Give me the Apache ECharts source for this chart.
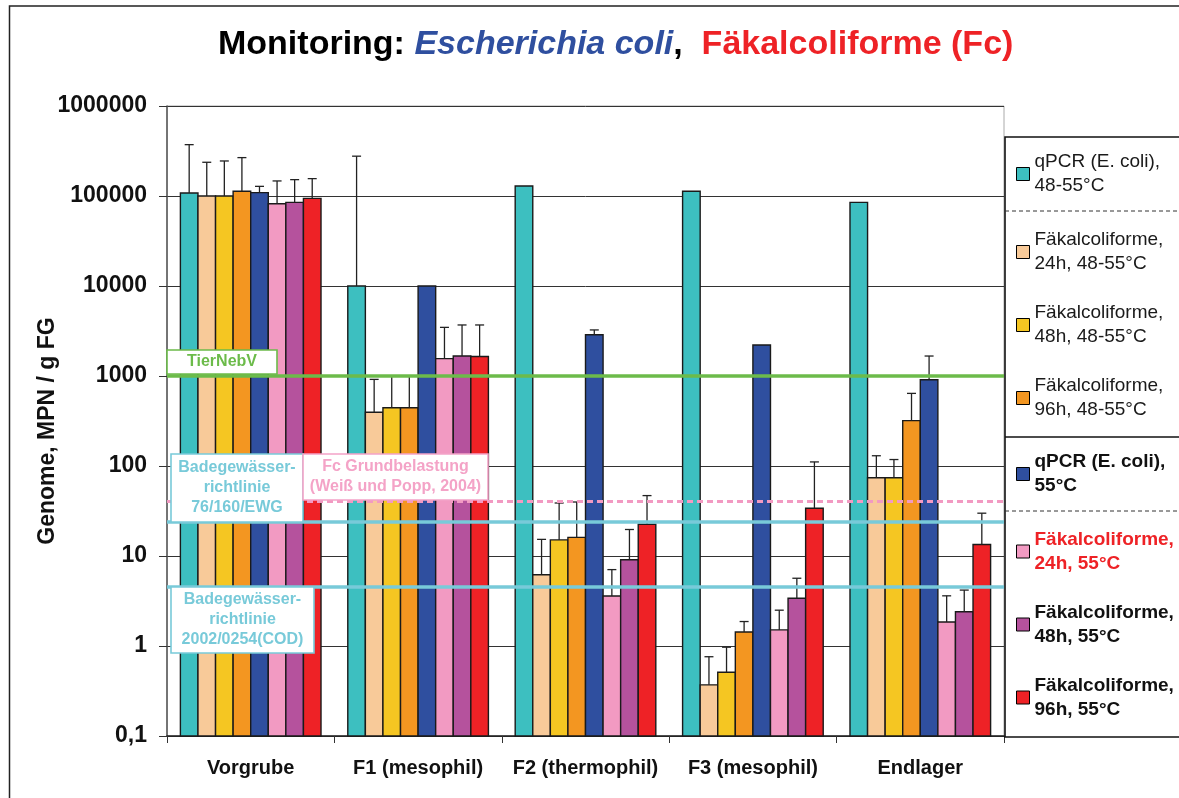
<!DOCTYPE html>
<html><head><meta charset="utf-8">
<script src="https://cdn.jsdelivr.net/npm/echarts@6/dist/echarts.min.js"></script>
<style>html,body{margin:0;padding:0;background:#fff}#c{width:1179px;height:798px}</style>
</head><body><div id="c"></div>
<script>
// ---------- data ----------
const categories = ['Vorgrube', 'F1 (mesophil)', 'F2 (thermophil)', 'F3 (mesophil)', 'Endlager'];
const seriesNames = [
  'qPCR (E. coli),\n48-55°C',
  'Fäkalcoliforme,\n24h, 48-55°C',
  'Fäkalcoliforme,\n48h, 48-55°C',
  'Fäkalcoliforme,\n96h, 48-55°C',
  'qPCR (E. coli),\n55°C',
  'Fäkalcoliforme,\n24h, 55°C',
  'Fäkalcoliforme,\n48h, 55°C',
  'Fäkalcoliforme,\n96h, 55°C'
];
const qpcr4855      = [108000, 10000, 129000, 113000, 85000];
const qpcr4855Err   = [372000, 277000, null, null, null];
const fc24h4855     = [100000, 396, 6.2, 0.37, 74];
const fc24h4855Err  = [237000, 917, 15.3, 0.76, 130];
const fc48h4855     = [100000, 444, 15.1, 0.51, 74];
const fc48h4855Err  = [245000, 1000, 38.8, 0.97, 118];
const fc96h4855     = [113000, 444, 16.1, 1.43, 319];
const fc96h4855Err  = [267000, 1000, 39.8, 1.87, 641];
const qpcr55        = [109000, 10000, 2870, 2210, 907];
const qpcr55Err     = [128000, null, 3250, null, 1667];
const fc24h55       = [82000, 1560, 3.6, 1.51, 1.85];
const fc24h55Err    = [147000, 3470, 7.06, 2.5, 3.61];
const fc48h55       = [85000, 1667, 9.1, 3.39, 2.4];
const fc48h55Err    = [152000, 3690, 19.7, 5.66, 4.18];
const fc96h55       = [94000, 1650, 22.5, 33.9, 13.4];
const fc96h55Err    = [156000, 3690, 46.9, 111, 29.9];
const yTickLabels   = [0.1, 1, 10, 100, 1000, 10000, 100000, 1000000];
// reference limits
const tierNebV      = 1000;
const fcGrund       = 41;
const badeEWG       = 24;
const badeCOD       = 4.5;

// ---------- styling ----------
const FONT = "'Liberation Sans', Arial, Helvetica, sans-serif";
const colors = ['#3dbfc0', '#f8ca99', '#f5c622', '#f39621', '#2f4f9f', '#f29ac2', '#b5529d', '#ee2226'];
const values = [qpcr4855, fc24h4855, fc48h4855, fc96h4855, qpcr55, fc24h55, fc48h55, fc96h55];
const errs   = [qpcr4855Err, fc24h4855Err, fc48h4855Err, fc96h4855Err, qpcr55Err, fc24h55Err, fc48h55Err, fc96h55Err];
const Y_MIN = yTickLabels[0], Y_MAX = yTickLabels[yTickLabels.length - 1];
const GROUP_FRACTION = 0.84;
const N = seriesNames.length;

function makeRenderer(k, color) {
  return function (params, api) {
    const ci = api.value(0), v = api.value(1), e = api.value(2);
    const top = api.coord([ci, v]);
    const base = api.coord([ci, Y_MIN]);
    const band = api.size([1, 1])[0];
    const groupW = band * GROUP_FRACTION;
    const barW = groupW / N;
    const x0 = top[0] - groupW / 2 + k * barW;
    const children = [{
      type: 'rect',
      shape: { x: x0, y: top[1], width: barW, height: base[1] - top[1] },
      style: { fill: color, stroke: '#1a1a1a', lineWidth: 1.4 }
    }];
    if (e != null && !isNaN(e) && e > v) {
      const ey = api.coord([ci, e])[1];
      const cx = x0 + barW / 2;
      children.push({ type: 'line', shape: { x1: cx, y1: top[1], x2: cx, y2: ey }, style: { stroke: '#222', lineWidth: 1.3 } });
      children.push({ type: 'line', shape: { x1: cx - 4.5, y1: ey, x2: cx + 4.5, y2: ey }, style: { stroke: '#222', lineWidth: 1.3 } });
    }
    return { type: 'group', children: children };
  };
}

const series = seriesNames.map(function (name, k) {
  return {
    name: name,
    type: 'custom',
    renderItem: makeRenderer(k, colors[k]),
    itemStyle: { color: colors[k], borderColor: '#000', borderWidth: 1 },
    encode: { x: 0, y: 1 },
    data: values[k].map(function (v, i) { return [i, v, errs[k][i]]; }),
    z: 2
  };
});
series.push({
  name: 'limits',
  type: 'line',
  data: [],
  z: 5,
  markLine: {
    silent: true,
    symbol: ['none', 'none'],
    label: { show: false },
    animation: false,
    data: [
      { yAxis: tierNebV, lineStyle: { color: '#6cbb4a', width: 3.5, type: 'solid' } },
      { yAxis: fcGrund, lineStyle: { color: '#f29ac2', width: 3, type: [6, 4] } },
      { yAxis: badeEWG, lineStyle: { color: '#78cad9', width: 3.5, type: 'solid' } },
      { yAxis: badeCOD, lineStyle: { color: '#78cad9', width: 3.5, type: 'solid' } }
    ]
  }
});

// legends: one per item to match the boxed layout
const legendCenters = [174, 252, 325, 398, 474, 551.5, 624.5, 697.5];
const legendTextStyles = [
  { color: '#1a1a1a', fontWeight: 'normal' },
  { color: '#1a1a1a', fontWeight: 'normal' },
  { color: '#1a1a1a', fontWeight: 'normal' },
  { color: '#1a1a1a', fontWeight: 'normal' },
  { color: '#111', fontWeight: 'bold' },
  { color: '#ee2226', fontWeight: 'bold' },
  { color: '#111', fontWeight: 'bold' },
  { color: '#111', fontWeight: 'bold' }
];
const LH = 24;
const legends = seriesNames.map(function (name, k) {
  return {
    left: 1016, top: legendCenters[k] - 1.5 * LH, padding: 0,
    orient: 'vertical', selectedMode: false,
    itemWidth: 13, itemHeight: 13, icon: 'rect',
    itemStyle: { borderColor: '#000', borderWidth: 1 },
    data: [name],
    textStyle: Object.assign({ fontFamily: FONT, fontSize: 19, lineHeight: LH, padding: [LH, 0, 0, 0] }, legendTextStyles[k])
  };
});

function boxText(x, y, w, h, stroke, lines) {
  return [
    { type: 'rect', z: 50, shape: { x: x, y: y, width: w, height: h }, style: { fill: '#fff', stroke: stroke, lineWidth: 1.6 } },
    { type: 'text', z: 51, x: x + w / 2, y: y + h / 2,
      style: { text: lines.join('\n'), fill: stroke, font: 'bold 16px ' + FONT, lineHeight: 20, align: 'center', verticalAlign: 'middle' } }
  ];
}

const graphics = [].concat(
  [{ type: 'rect', z: 60, silent: true, shape: { x: 9.5, y: 6, width: 1300, height: 1000 }, style: { fill: 'none', stroke: '#222', lineWidth: 1.5 } }],
  [{ type: 'rect', z: 60, shape: { x: 1005, y: 137, width: 300, height: 600 }, style: { fill: 'none', stroke: '#111', lineWidth: 1.6 } }],
  [{ type: 'line', z: 60, shape: { x1: 1005, y1: 211, x2: 1179, y2: 211 }, style: { stroke: '#333', lineWidth: 1, lineDash: [4, 3] } }],
  [{ type: 'line', z: 60, shape: { x1: 1005, y1: 437, x2: 1179, y2: 437 }, style: { stroke: '#111', lineWidth: 1.6 } }],
  [{ type: 'line', z: 60, shape: { x1: 1005, y1: 511, x2: 1179, y2: 511 }, style: { stroke: '#333', lineWidth: 1, lineDash: [4, 3] } }],
  boxText(167, 350, 110, 24, '#6cbb4a', ['TierNebV']),
  boxText(171, 454, 132, 68, '#78cad9', ['Badegewässer-', 'richtlinie', '76/160/EWG']),
  boxText(303, 454, 185, 46, '#f4a3c7', ['Fc Grundbelastung', '(Weiß und Popp, 2004)']),
  boxText(171, 587, 143, 66, '#78cad9', ['Badegewässer-', 'richtlinie', '2002/0254(COD)'])
);

const option = {
  animation: false,
  backgroundColor: '#fff',
  textStyle: { fontFamily: FONT },
  title: {
    left: 218, top: 28, padding: 0,
    text: '{a|Monitoring: }{b|Escherichia coli}{a|,  }{c|Fäkalcoliforme (Fc)}',
    textStyle: {
      rich: {
        a: { fontFamily: FONT, fontSize: 34, fontWeight: 'bold', color: '#000' },
        b: { fontFamily: FONT, fontSize: 34, fontWeight: 'bold', fontStyle: 'italic', color: '#2f4f9f' },
        c: { fontFamily: FONT, fontSize: 34, fontWeight: 'bold', color: '#ee2226' }
      }
    }
  },
  legend: legends,
  grid: { left: 167, right: 175, top: 106, bottom: 62, show: true, borderColor: '#aaa', borderWidth: 1, backgroundColor: '#fff' },
  xAxis: {
    type: 'category',
    data: categories,
    axisLine: { lineStyle: { color: '#222', width: 1.5 } },
    axisTick: { show: true, length: 7, lineStyle: { color: '#333' } },
    axisLabel: { interval: 0, fontFamily: FONT, fontSize: 20, fontWeight: 'bold', color: '#111', margin: 22 },
    splitLine: { show: false }
  },
  yAxis: {
    type: 'log', logBase: 10, min: Y_MIN, max: Y_MAX, splitNumber: 7,
    name: 'Genome, MPN / g FG',
    nameLocation: 'middle', nameGap: 108, nameMoveOverlap: false,
    nameTextStyle: { fontFamily: FONT, fontSize: 23, fontWeight: 'bold', color: '#111', padding: [0, 20, 0, 0] },
    axisLine: { show: true, lineStyle: { color: '#555', width: 1.5 } },
    axisTick: { show: true, length: 8, lineStyle: { color: '#333' } },
    axisLabel: {
      fontFamily: FONT, fontSize: 23, fontWeight: 'bold', color: '#111', margin: 20,
      formatter: function (v) { return v < 1 ? String(Math.round(v * 10) / 10).replace('.', ',') : String(Math.round(v)); }
    },
    splitLine: { show: true, lineStyle: { color: '#333', width: 1 } },
    minorTick: { show: false }
  },
  graphic: graphics,
  series: series
};

const chart = echarts.init(document.getElementById('c'), null, { renderer: 'canvas' });
chart.setOption(option);
</script>
</body></html>
